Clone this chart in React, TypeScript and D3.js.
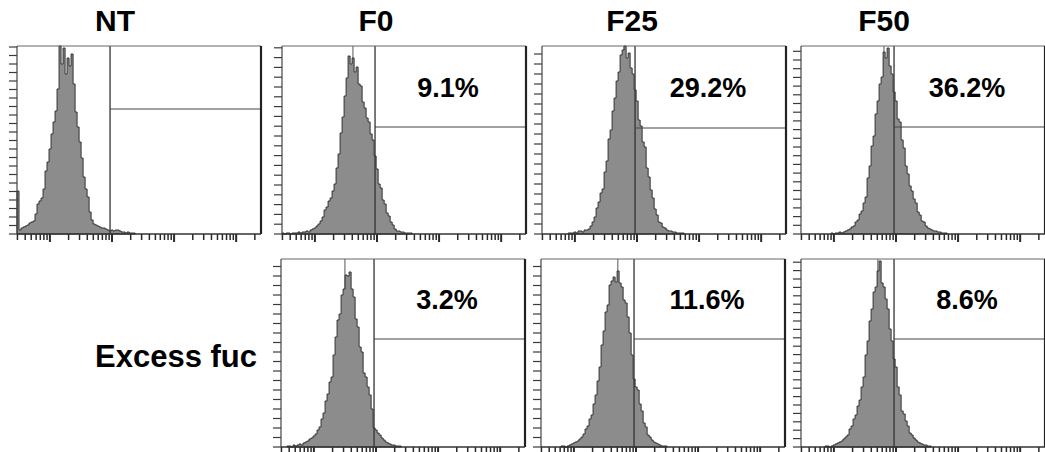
import React from 'react';
import * as d3 from 'd3';

// ---------- data ----------
const columnLabels = ['NT', 'F0', 'F25', 'F50'];
const rowLabel = 'Excess fuc';

// x axis: log fluorescence, in decades
const xLogMin = 0.47;
const xLogMax = 4.4;
const binWidth = 1 / 31; // decades per histogram bin
const countMax = 188;

// histogram counts (bins start at xLogMin + startBin * binWidth)
const ntCounts = [43, 4, 6, 7, 8, 9, 11, 12, 13, 20, 30, 33, 36, 45, 63, 72, 85, 100, 112, 123, 145, 188, 170, 186, 160, 176, 168, 180, 150, 122, 107, 92, 76, 57, 45, 37, 22, 14, 10, 9, 8, 7, 6, 6, 5, 4, 3, 4, 3, 4, 4, 3, 2, 2, 1, 2, 1, 1, 1];
const f0Counts = [1, 0, 1, 1, 0, 1, 1, 1, 2, 1, 2, 2, 3, 2, 4, 5, 6, 8, 10, 13, 17, 24, 27, 33, 36, 43, 50, 66, 80, 101, 117, 138, 156, 178, 170, 176, 162, 167, 150, 148, 132, 126, 116, 112, 100, 94, 78, 65, 50, 46, 34, 30, 21, 18, 12, 9, 5, 3, 3, 2, 2, 1, 1, 1, 1];
const f25Counts = [1, 1, 1, 2, 1, 3, 3, 2, 4, 4, 5, 8, 12, 17, 26, 32, 41, 45, 62, 73, 95, 104, 123, 136, 153, 162, 179, 184, 188, 176, 181, 166, 160, 144, 133, 114, 108, 92, 87, 66, 57, 44, 36, 25, 19, 12, 11, 7, 6, 4, 3, 3, 2, 2, 1, 1, 1, 1];
const f50Counts = [1, 0, 1, 1, 2, 1, 2, 3, 4, 5, 7, 8, 12, 14, 20, 23, 31, 37, 56, 68, 88, 98, 120, 133, 150, 157, 182, 176, 186, 168, 160, 142, 133, 115, 112, 94, 86, 68, 60, 48, 43, 35, 31, 22, 19, 13, 12, 8, 6, 5, 4, 3, 3, 2, 2, 1, 1, 1];
const exF0Counts = [1, 1, 0, 2, 1, 2, 3, 2, 4, 5, 6, 8, 9, 11, 13, 17, 20, 28, 34, 46, 53, 65, 70, 92, 110, 127, 133, 152, 158, 172, 171, 175, 158, 150, 128, 120, 100, 95, 74, 70, 60, 52, 38, 19, 17, 14, 12, 9, 7, 5, 4, 3, 2, 2, 1, 1, 1];
const exF25Counts = [1, 1, 0, 1, 2, 3, 4, 5, 6, 8, 10, 13, 18, 21, 28, 32, 43, 52, 66, 80, 102, 116, 135, 142, 162, 166, 170, 165, 176, 164, 160, 147, 144, 130, 114, 92, 68, 60, 57, 43, 36, 24, 20, 12, 10, 7, 5, 4, 3, 2, 1, 1, 1];
const exF50Counts = [1, 1, 0, 1, 2, 3, 4, 5, 6, 8, 10, 12, 18, 21, 28, 32, 41, 47, 60, 70, 92, 106, 126, 138, 155, 160, 176, 186, 164, 160, 148, 138, 118, 106, 88, 80, 60, 52, 36, 33, 26, 21, 14, 12, 9, 7, 5, 4, 3, 2, 2, 1, 1];

const startBins = [0, 0, 13, 15, 3, 10, 12];
const gateX = 93; // fluorescence gate
const gateCounts = [125, 107, 106, 107, 108, 108, 108];
const peakMarkers = [null, 41, 62, 64, 31.6, 51, 51];
const percentLabels = [null, '9.1%', '29.2%', '36.2%', '3.2%', '11.6%', '8.6%'];
const yTickSteps = [8.5, 9.8, 10, 8.7, 9.5, 9.5, 8.4];
const panelCounts = [ntCounts, f0Counts, f25Counts, f50Counts, exF0Counts, exF25Counts, exF50Counts];

// ---------- layout ----------
const W = 1045;
const H = 452;
const PW = 244;
const PH = 188;
const panelPos = [
  { x: 17, y: 46 },
  { x: 282, y: 46 },
  { x: 542, y: 46 },
  { x: 801, y: 46 },
  { x: 281, y: 259 },
  { x: 541, y: 259 },
  { x: 801, y: 259 },
];
const headerX = [115, 376, 632, 884];
const FONT = '"Liberation Sans", Arial, Helvetica, sans-serif';

const xScale = d3.scaleLog().domain([10 ** xLogMin, 10 ** xLogMax]).range([0, PW]);
const yScale = d3.scaleLinear().domain([0, countMax]).range([PH, 0]);

const xTicks: { v: number; major: boolean }[] = [];
for (let k = 0; k <= 4; k++) {
  for (let m = 1; m <= 9; m++) {
    const v = m * 10 ** k;
    const lv = Math.log10(v);
    if (lv >= xLogMin - 1e-6 && lv <= xLogMax + 1e-6) xTicks.push({ v, major: m === 1 });
  }
}

function Panel({ idx }: { idx: number }) {
  const pos = panelPos[idx];
  const counts = panelCounts[idx];
  const start = startBins[idx];
  const pts = counts.map((c, i) => ({ x: xScale(10 ** (xLogMin + (start + i) * binWidth)), c }));
  pts.push({ x: xScale(10 ** (xLogMin + (start + counts.length) * binWidth)), c: counts[counts.length - 1] });
  const area = d3
    .area<{ x: number; c: number }>()
    .x((d) => d.x)
    .y0(yScale(0))
    .y1((d) => yScale(d.c))
    .curve(d3.curveStepAfter);
  const gx = xScale(gateX);
  const gy = yScale(gateCounts[idx]);
  const step = yTickSteps[idx];
  const yTicks = d3.range(0, countMax + 0.01, step);
  const peak = peakMarkers[idx];
  const label = percentLabels[idx];
  return (
    <g transform={`translate(${pos.x},${pos.y})`}>
      {yTicks.map((t, i) => (
        <line key={'yt' + i} x1={-8} x2={0} y1={yScale(t)} y2={yScale(t)} stroke="#3a3a3a" strokeWidth={1.2} />
      ))}
      {xTicks.map((t, i) => (
        <line
          key={'xt' + i}
          x1={xScale(t.v)}
          x2={xScale(t.v)}
          y1={PH}
          y2={PH + (t.major ? 8 : 6)}
          stroke="#2a2a2a"
          strokeWidth={t.major ? 2 : 1.5}
        />
      ))}
      {peak != null && (
        <line x1={xScale(peak)} x2={xScale(peak)} y1={0} y2={PH} stroke="#555" strokeWidth={1} />
      )}
      <path d={area(pts) || ''} fill="#8c8c8c" stroke="#333" strokeWidth={1} />
      <line x1={gx} x2={gx} y1={0} y2={PH} stroke="#333" strokeWidth={1.3} />
      <line x1={gx} x2={PW} y1={gy} y2={gy} stroke="#444" strokeWidth={1.2} />
      <line x1={0} x2={PW} y1={0} y2={0} stroke="#666" strokeWidth={1} />
      <line x1={0} x2={0} y1={0} y2={PH} stroke="#444" strokeWidth={1.2} />
      <line x1={PW} x2={PW} y1={0} y2={PH} stroke="#222" strokeWidth={2.2} />
      <line x1={0} x2={PW} y1={PH} y2={PH} stroke="#333" strokeWidth={1.5} />
      {label && (
        <text
          x={166}
          y={idx < 4 ? 51 : 50}
          textAnchor="middle"
          fontFamily={FONT}
          fontWeight="bold"
          fontSize={27}
          fill="#000"
        >
          {label}
        </text>
      )}
    </g>
  );
}

export default function App() {
  return (
    <svg
      width={W}
      height={H}
      viewBox={`0 0 ${W} ${H}`}
      style={{ position: 'absolute', left: 0, top: 0, background: '#fff' }}
    >
      <rect x={0} y={0} width={W} height={H} fill="#fff" />
      {columnLabels.map((c, i) => (
        <text key={c} x={headerX[i]} y={31} textAnchor="middle" fontFamily={FONT} fontWeight="bold" fontSize={30}>
          {c}
        </text>
      ))}
      <text x={95} y={367} fontFamily={FONT} fontWeight="bold" fontSize={31}>
        {rowLabel}
      </text>
      {panelPos.map((_, i) => (
        <Panel key={i} idx={i} />
      ))}
    </svg>
  );
}
